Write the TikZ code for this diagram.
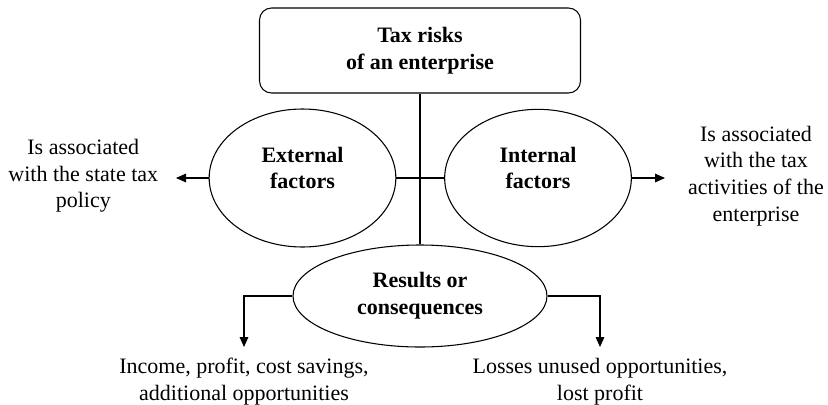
\documentclass[tikz,border=0pt]{standalone}
\usepackage{fontspec}
\setmainfont{Liberation Serif}
\usetikzlibrary{shapes,arrows.meta,positioning,calc}

\begin{document}
\begin{tikzpicture}[x=0.75pt, y=-0.75pt, line width=0.8pt,
    txt/.style={align=center, font=\fontsize{16.5}{20}\selectfont},
    head/.style={align=center, font=\fontsize{16.5}{20}\selectfont\bfseries},
    oval/.style={draw, ellipse, inner sep=0pt},
    arr/.style={-{Triangle[length=7.5pt,width=6.5pt]}}]
\useasboundingbox (0,0) rectangle (828,404);
\node[draw, rounded corners=9pt, minimum width=240.75pt, minimum height=63.75pt, head] (risk) at (420,50.5) {Tax risks\\of an enterprise};
\node[oval, minimum width=140pt, minimum height=103.5pt] (ext) at (302.5,178) {};
\node[head] (extlbl) at (302.5,168) {External\\factors};
\node[oval, minimum width=140pt, minimum height=103pt] (int) at (538,178) {};
\node[head] (intlbl) at (538,168) {Internal\\factors};
\node[oval, minimum width=190.5pt, minimum height=76.5pt, head] (res) at (420,296) {Results or\\consequences};
\node[txt, anchor=east, inner xsep=13pt] (extnote) at (176,176) {Is associated\\with the state tax\\policy};
\node[txt, anchor=west, inner xsep=17pt] (intnote) at (665,176) {Is associated\\with the tax\\activities of the\\enterprise};
\node[txt, anchor=north, inner ysep=8pt] (gainnote) at (244,347) {Income, profit, cost savings,\\additional opportunities};
\node[txt, anchor=north, inner ysep=8pt] (lossnote) at (600,347) {Losses unused opportunities,\\lost profit};
\draw (risk.south) -- (res.north);
\draw (ext.east) -- (int.west);
\draw[arr] (ext.west) -- (ext.west -| extnote.east);
\draw[arr] (int.east) -- (int.east -| intnote.west);
\draw[arr] (res.west) -| (gainnote.north);
\draw[arr] (res.east) -| (lossnote.north);
\end{tikzpicture}
\end{document}
